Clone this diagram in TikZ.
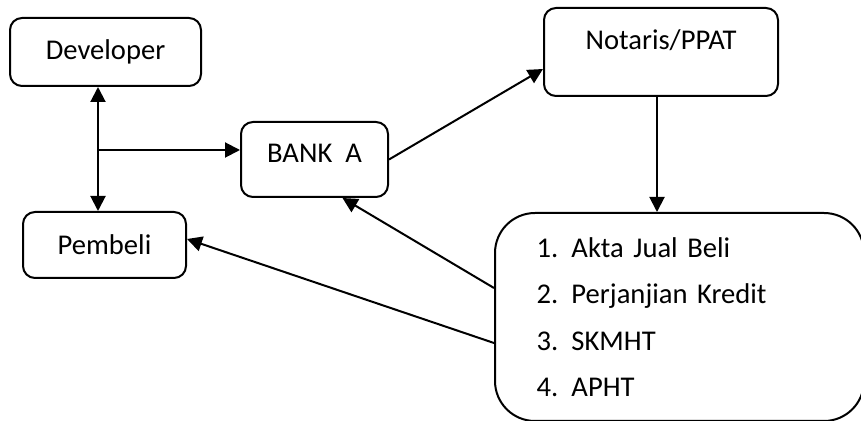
\documentclass[tikz,border=0pt]{standalone}
\usepackage{fontspec}
\setmainfont{Carlito}
\usepackage{tikz}
\usetikzlibrary{positioning,calc,arrows.meta}
\tikzset{
  box/.style      = {draw=black, fill=white, line width=1pt, rounded corners=6pt, inner sep=0pt,
                     font=\fontsize{14.3}{17}\selectfont},
  listbox/.style  = {box, rounded corners=20pt, align=left, inner xsep=20.75pt, inner ysep=0pt,
                     font=\fontsize{14.3}{23.25}\selectfont},
  flow/.style     = {-{Triangle[length=7.5pt,width=7.5pt]}, draw=black, line width=1pt},
  flowii/.style   = {{Triangle[length=7.5pt,width=7.5pt]}-{Triangle[length=7.5pt,width=7.5pt]}, draw=black, line width=1pt},
}
\newcommand{\itemno}[1]{\makebox[17.5pt][l]{#1}}

\begin{document}
\begin{tikzpicture}[x=0.5pt,y=-0.5pt]
\path[use as bounding box] (0,0) rectangle (861,421);

% ---- parties ------------------------------------------------------------
\node[box, minimum width=95.5pt, minimum height=34pt] (dev) at (105.5,52) {Developer};
\node[box, minimum width=81.5pt, minimum height=33pt] (pem) at (104.5,245) {Pembeli};
\node[box, minimum width=73.5pt, minimum height=37.5pt, text depth=6pt] (bank) at (314.5,159.5) {BANK\ \ A};
\node[box, minimum width=117pt, minimum height=44pt, text depth=12pt] (nota) at (661,52) {Notaris/PPAT};

% ---- documents from the notary -----------------------------------------
\node[listbox, text width=143pt, minimum height=104pt] (docs) at (679.5,317)
  {\itemno{1.}Akta Jual Beli\\
   \itemno{2.}Perjanjian Kredit\\
   \itemno{3.}SKMHT\\
   \itemno{4.}APHT};

% ---- connectors ---------------------------------------------------------
\coordinate (jn) at (98,150);
\draw[flowii] (dev.south -| jn) -- (pem.north -| jn);
\draw[flow] (jn) -- (bank.west |- jn);
\draw[flow] (bank.east) -- ($(nota.west)+(0,17)$);

\coordinate (ns) at ($(nota.south)+(-4,0)$);
\draw[flow] (ns) -- (ns |- docs.north);

\draw[flow] ($(docs.west)+(0,-29)$) -- ($(bank.south)+(28,0)$);
\draw[flow] ($(docs.west)+(0,26)$) -- ($(pem.east)+(0,-6)$);

\end{tikzpicture}
\end{document}
